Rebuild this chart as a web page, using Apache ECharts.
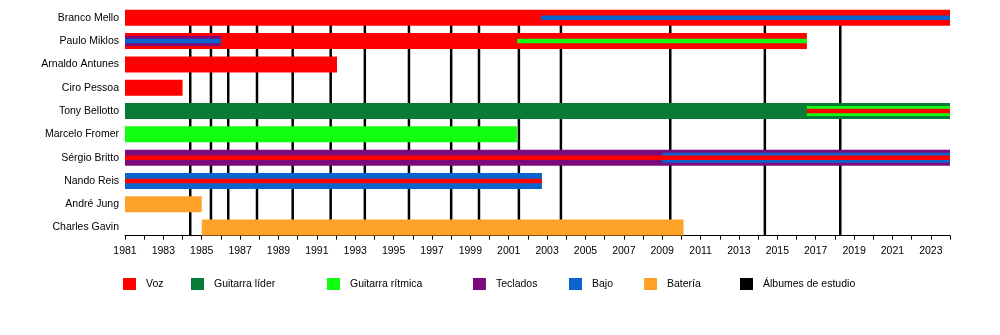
<!DOCTYPE html>
<html>
<head>
<meta charset="utf-8">
<script src="https://cdn.jsdelivr.net/npm/echarts@6/dist/echarts.min.js"></script>
<style>
  html, body { margin: 0; padding: 0; background: #fff; }
  #chart { width: 1000px; height: 335px; }
</style>
</head>
<body>
<div id="chart"></div>
<script>
// Band members, top to bottom
const members = [
  'Branco Mello', 'Paulo Miklos', 'Arnaldo Antunes', 'Ciro Pessoa', 'Tony Bellotto',
  'Marcelo Fromer', 'Sérgio Britto', 'Nando Reis', 'André Jung', 'Charles Gavin'
];

// Roles shown in the legend
const roles = ['Voz', 'Guitarra líder', 'Guitarra rítmica', 'Teclados', 'Bajo', 'Batería'];
const albumLabel = 'Álbumes de estudio';

// Main role of each member: [member, role, from, to]
const mainBars = [
  ['Branco Mello', 'Voz', 1981, 2024],
  ['Paulo Miklos', 'Voz', 1981, 2016.54],
  ['Arnaldo Antunes', 'Voz', 1981, 1992.05],
  ['Ciro Pessoa', 'Voz', 1981, 1984.0],
  ['Tony Bellotto', 'Guitarra líder', 1981, 2024],
  ['Marcelo Fromer', 'Guitarra rítmica', 1981, 2001.44],
  ['Sérgio Britto', 'Teclados', 1981, 2024],
  ['Nando Reis', 'Bajo', 1981, 2002.73],
  ['André Jung', 'Batería', 1981, 1985.0],
  ['Charles Gavin', 'Batería', 1985.0, 2010.11]
];

// Second role
const secondBars = [
  ['Paulo Miklos', 'Teclados', 1981, 1986.0],
  ['Tony Bellotto', 'Guitarra rítmica', 2016.54, 2024],
  ['Sérgio Britto', 'Bajo', 2009.0, 2024]
];

// Third role
const thirdBars = [
  ['Branco Mello', 'Bajo', 2002.68, 2024],
  ['Paulo Miklos', 'Bajo', 1981, 1986.0],
  ['Paulo Miklos', 'Guitarra rítmica', 2001.44, 2016.54],
  ['Tony Bellotto', 'Voz', 2016.54, 2024],
  ['Sérgio Britto', 'Voz', 1981, 2024],
  ['Nando Reis', 'Voz', 1981, 2002.73]
];

// Studio album releases (fractional year)
const albums = [
  1984.4, 1985.48, 1986.38, 1987.88, 1989.74, 1991.72, 1993.5, 1995.8,
  1998.0, 1999.45, 2001.53, 2003.72, 2009.42, 2014.35, 2018.28
];

const yearMin = 1981;
const yearMax = 2024;

const colors = {
  'Voz': '#ff0000',
  'Guitarra líder': '#087c36',
  'Guitarra rítmica': '#11ff11',
  'Teclados': '#7d0a7d',
  'Bajo': '#0a64cc',
  'Batería': '#ffa22a'
};
const layerHeights = [16, 10, 4.5];
const lastRow = 9.35;
const FONT = '"Liberation Sans", Arial, sans-serif';

function rowsFor(role) {
  const out = [];
  [mainBars, secondBars, thirdBars].forEach((list, layer) => {
    list.forEach(b => {
      if (b[1] === role) out.push([members.indexOf(b[0]), b[2], b[3], layer]);
    });
  });
  return out;
}

const roleSeries = roles.map(role => ({
  name: role,
  type: 'custom',
  itemStyle: { color: colors[role] },
  dimensions: ['row', 'from', 'to', 'layer'],
  encode: { x: [1, 2], y: 0 },
  data: rowsFor(role),
  renderItem: (params, api) => {
    const row = api.value(0);
    const p0 = api.coord([api.value(1), row]);
    const p1 = api.coord([api.value(2), row]);
    const layer = api.value(3);
    const h = layerHeights[layer];
    return {
      type: 'rect',
      shape: { x: p0[0], y: p0[1] - h / 2, width: p1[0] - p0[0], height: h },
      style: { fill: colors[role] },
      z2: 10 + layer
    };
  }
}));

const albumSeries = {
  name: albumLabel,
  type: 'custom',
  itemStyle: { color: '#000' },
  encode: { x: 0 },
  data: albums.map(a => [a]),
  renderItem: (params, api) => {
    const top = api.coord([api.value(0), 0]);
    const bottom = api.coord([api.value(0), lastRow]);
    return {
      type: 'line',
      shape: { x1: top[0], y1: top[1], x2: bottom[0], y2: bottom[1] },
      style: { stroke: '#000', lineWidth: 2.5 },
      z2: 1
    };
  }
};

const legendItems = roles.concat([albumLabel]);
const legendLeft = [123, 191, 327, 473, 569, 644, 740];

const chart = echarts.init(document.getElementById('chart'), null, { renderer: 'canvas' });
chart.setOption({
  animation: false,
  backgroundColor: '#fff',
  textStyle: { fontFamily: FONT },
  grid: { left: 125, right: 50, top: 17.8, bottom: 99.3, containLabel: false },
  xAxis: {
    type: 'value',
    min: yearMin,
    max: yearMax,
    interval: 1,
    splitLine: { show: false },
    axisLine: { show: true, onZero: false, lineStyle: { color: '#000', width: 1 } },
    axisTick: { show: true, length: 4, lineStyle: { color: '#000' } },
    axisLabel: {
      margin: 10,
      color: '#000',
      fontSize: 10.5,
      fontFamily: FONT,
      formatter: v => ((v - yearMin) % 2 === 0 ? String(v) : '')
    }
  },
  yAxis: {
    type: 'value',
    inverse: true,
    min: 0,
    max: lastRow,
    interval: 1,
    splitLine: { show: false },
    axisLine: { show: false },
    axisTick: { show: false },
    axisLabel: {
      margin: 6,
      color: '#000',
      fontSize: 10.5,
      fontFamily: FONT,
      formatter: v => (Number.isInteger(v) && members[v] ? members[v] : '')
    }
  },
  legend: legendItems.map((name, i) => ({
    data: [name],
    left: legendLeft[i],
    top: 278,
    icon: 'rect',
    itemWidth: 13,
    itemHeight: 12,
    selectedMode: false,
    padding: 0,
    textStyle: { color: '#000', fontSize: 10.5, fontFamily: FONT, padding: [0, 0, 0, 5] }
  })),
  series: [albumSeries].concat(roleSeries)
});
</script>
</body>
</html>
